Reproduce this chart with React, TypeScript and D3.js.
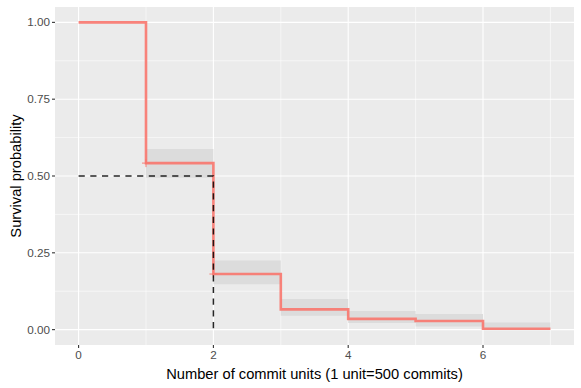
import React from 'react'
import * as d3 from 'd3'

// Kaplan-Meier step values
const times = [0, 1, 2, 3, 4, 5, 6, 7]
const survival = [1.0, 0.542, 0.181, 0.066, 0.035, 0.028, 0.003, 0.003]
const upper = [1.0, 0.588, 0.225, 0.1, 0.061, 0.051, 0.023, 0.023]
const lower = [1.0, 0.494, 0.148, 0.045, 0.022, 0.01, 0.0, 0.0]
const censorTimes = [1, 2]
const censorValues = [0.542, 0.181]
const medianTime = 2
const xTicks = [0, 2, 4, 6]
const yTicks = [0, 0.25, 0.5, 0.75, 1]

const W = 581
const H = 388
const margin = { top: 7, right: 7, bottom: 43, left: 55 }
const font = '"Liberation Sans", Arial, sans-serif'

export default function App() {
  const pw = W - margin.left - margin.right
  const ph = H - margin.top - margin.bottom

  const x = d3.scaleLinear().domain([-0.35, 7.35]).range([0, pw])
  const y = d3.scaleLinear().domain([-0.05, 1.05]).range([ph, 0])

  const pts = times.map((t, i) => ({ t, s: survival[i], u: upper[i], l: lower[i] }))

  const line = d3.line<any>()
    .x(d => x(d.t))
    .y(d => y(d.s))
    .curve(d3.curveStepAfter)

  const area = d3.area<any>()
    .x(d => x(d.t))
    .y0(d => y(d.l))
    .y1(d => y(d.u))
    .curve(d3.curveStepAfter)

  const minorX = [1, 3, 5, 7]
  const minorY = [0.125, 0.375, 0.625, 0.875]

  return (
    <svg width={W} height={H} style={{ position: 'absolute', left: 0, top: 0 }}>
      <rect width={W} height={H} fill="#fff" />
      <g transform={`translate(${margin.left},${margin.top})`}>
        <rect width={pw} height={ph} fill="#EBEBEB" />
        {minorX.map(v => (
          <line key={'mx' + v} x1={x(v)} x2={x(v)} y1={0} y2={ph} stroke="#fff" strokeWidth={0.55} />
        ))}
        {minorY.map(v => (
          <line key={'my' + v} x1={0} x2={pw} y1={y(v)} y2={y(v)} stroke="#fff" strokeWidth={0.55} />
        ))}
        {xTicks.map(v => (
          <line key={'gx' + v} x1={x(v)} x2={x(v)} y1={0} y2={ph} stroke="#fff" strokeWidth={1.1} />
        ))}
        {yTicks.map(v => (
          <line key={'gy' + v} x1={0} x2={pw} y1={y(v)} y2={y(v)} stroke="#fff" strokeWidth={1.1} />
        ))}
        <path d={area(pts) || ''} fill="#DCDCDC" />
        <path d={line(pts) || ''} fill="none" stroke="#F8766D" strokeWidth={2.6} opacity={0.9} />
        {censorTimes.map((t, i) => (
          <g key={'c' + t} stroke="#F8766D" strokeWidth={1} opacity={0.9}>
            <line x1={x(t) - 4} x2={x(t) + 4} y1={y(censorValues[i])} y2={y(censorValues[i])} />
            <line x1={x(t)} x2={x(t)} y1={y(censorValues[i]) - 4} y2={y(censorValues[i]) + 4} />
          </g>
        ))}
        <path
          d={`M${x(0)},${y(0.5)}H${x(medianTime)}V${y(0)}`}
          fill="none"
          stroke="#000"
          strokeWidth={1.5}
          strokeDasharray="6.2,5.5"
          opacity={0.85}
        />
        {xTicks.map(v => (
          <g key={'tx' + v}>
            <line x1={x(v)} x2={x(v)} y1={ph} y2={ph + 3} stroke="#333" strokeWidth={1.1} />
            <text x={x(v)} y={ph + 14} textAnchor="middle" fontFamily={font} fontSize={11.7} fill="#4D4D4D">
              {v}
            </text>
          </g>
        ))}
        {yTicks.map(v => (
          <g key={'ty' + v}>
            <line x1={-3} x2={0} y1={y(v)} y2={y(v)} stroke="#333" strokeWidth={1.1} />
            <text x={-5} y={y(v) + 4} textAnchor="end" fontFamily={font} fontSize={11.7} fill="#4D4D4D">
              {d3.format('.2f')(v)}
            </text>
          </g>
        ))}
        <text x={pw / 2} y={ph + 34} textAnchor="middle" fontFamily={font} fontSize={14.7} fill="#000">
          Number of commit units (1 unit=500 commits)
        </text>
        <text
          transform={`translate(${-34},${ph / 2}) rotate(-90)`}
          textAnchor="middle"
          fontFamily={font}
          fontSize={14.7}
          fill="#000"
        >
          Survival probability
        </text>
      </g>
    </svg>
  )
}
